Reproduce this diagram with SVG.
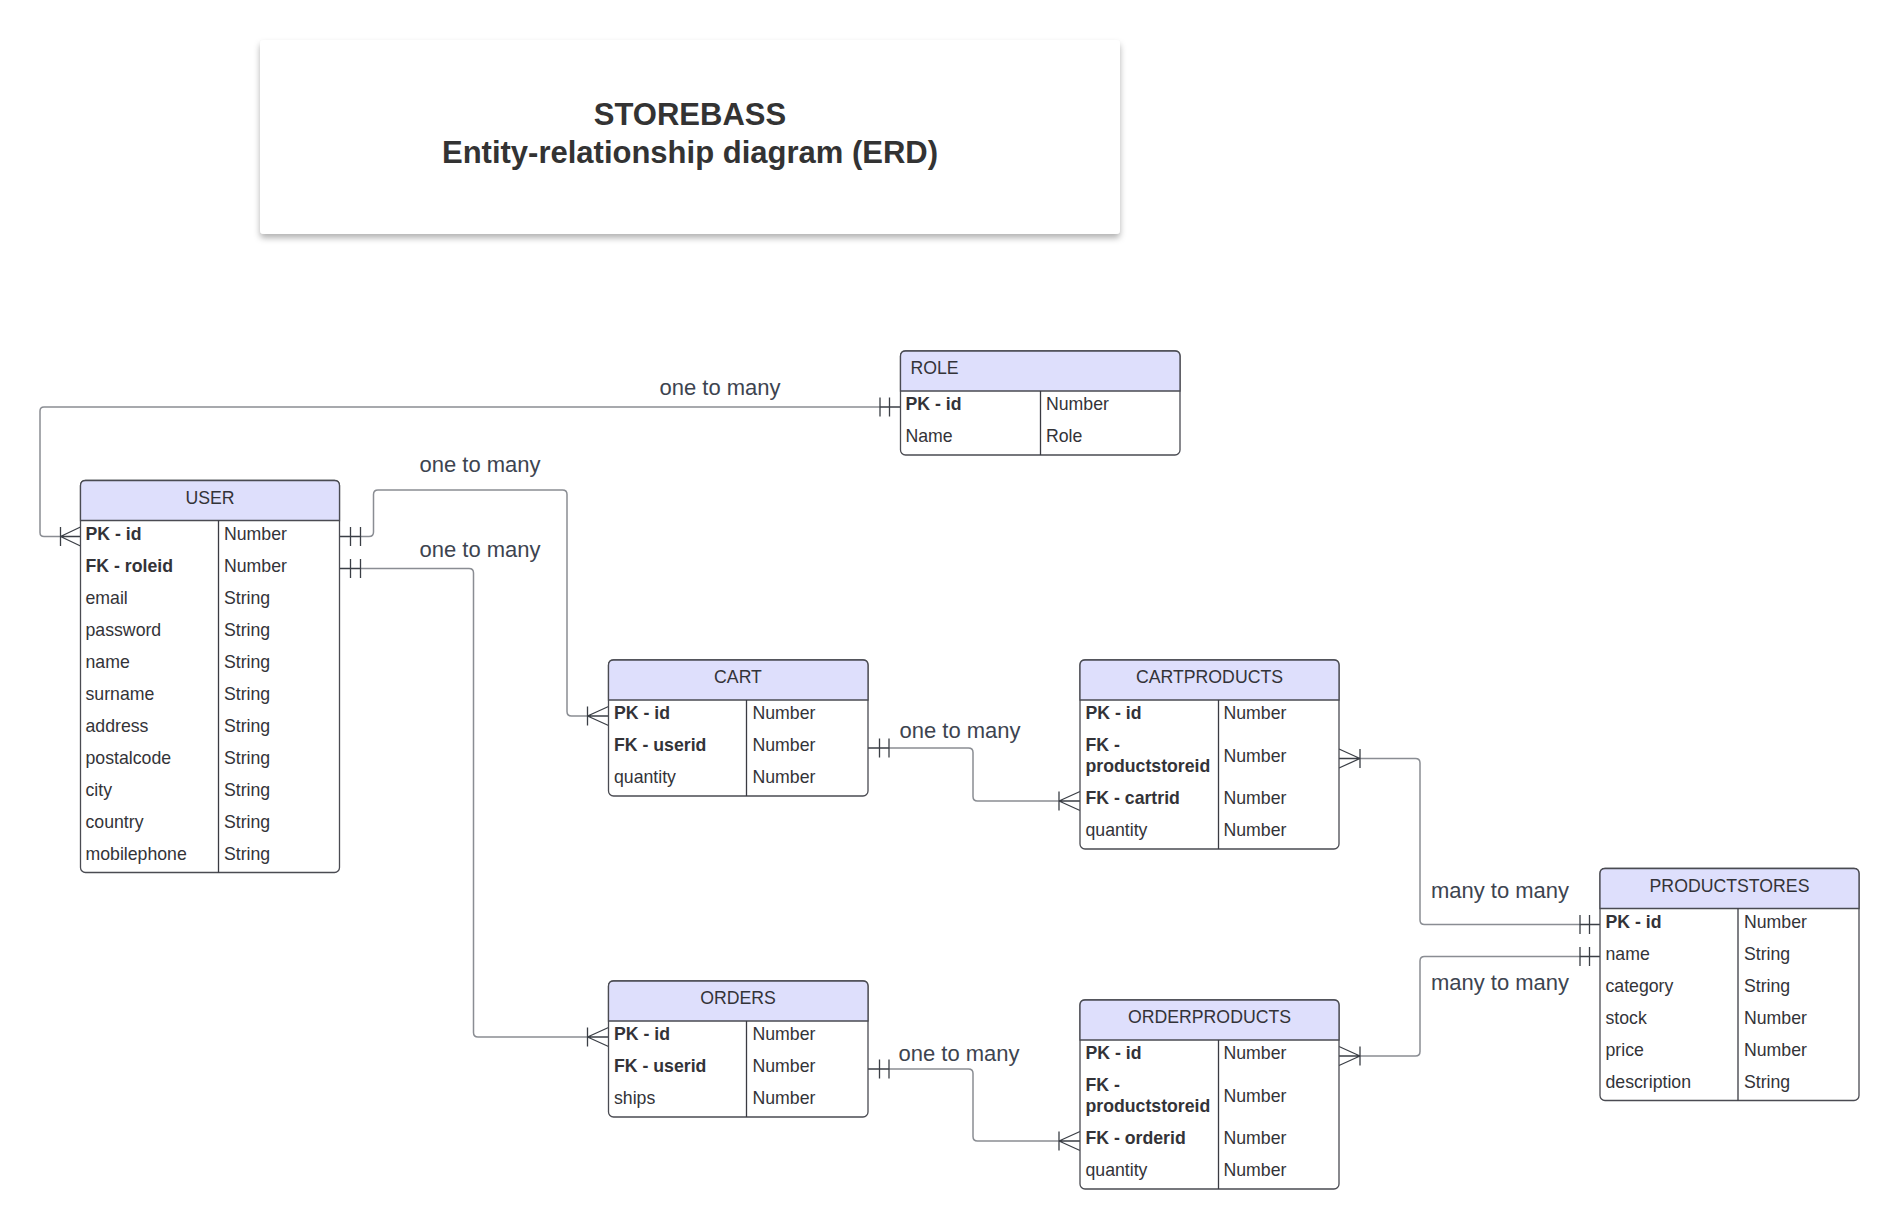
<svg xmlns="http://www.w3.org/2000/svg" width="1900" height="1229" viewBox="0 0 1900 1229">
<style>
text{font-family:"Liberation Sans",Arial,sans-serif;fill:#333338}
.t{font-size:17.7px}
.b{font-size:17.7px;font-weight:bold}
.h{font-size:17.7px;text-anchor:middle}
.lbl{font-size:22px;text-anchor:middle;fill:#3d4450}
.title{font-size:31px;font-weight:bold;text-anchor:middle;fill:#333}
.box{fill:#fff;stroke:#4a4b52;stroke-width:1.3}
.hd{fill:#dedffc;stroke:#4a4b52;stroke-width:1.3}
.ln{stroke:#3a3b42;stroke-width:1.3;fill:none}
.cn{stroke:#8a8d93;stroke-width:1.5;fill:none}
.end{stroke:#3b3f46;stroke-width:1.3;fill:none}
</style>
<defs>
<filter id="sh" x="-5%" y="-10%" width="110%" height="130%">
<feDropShadow dx="0" dy="4" stdDeviation="3" flood-color="#000" flood-opacity="0.3"/>
</filter>
</defs>

<g id="title">
<rect x="260" y="40" width="860" height="194" rx="4" fill="#fff" filter="url(#sh)"/>
<text class="title" x="690" y="125">STOREBASS</text>
<text class="title" x="690" y="162.5">Entity-relationship diagram (ERD)</text>
</g>

<g id="connectors">
<path class="cn" d="M880,407 H44 Q40,407 40,411 V532.5 Q40,536.5 44,536.5 H60.5"/>
<path class="cn" d="M360.5,536.5 H369 Q373.5,536.5 373.5,532 V494.5 Q373.5,490 378,490 H562.5 Q567,490 567,494.5 V711.5 Q567,716 571.5,716 H587.5"/>
<path class="cn" d="M360.5,568.5 H469 Q473.5,568.5 473.5,573 V1032.5 Q473.5,1037 478,1037 H587.5"/>
<path class="cn" d="M889,748 H968.5 Q973,748 973,752.5 V796.5 Q973,801 977.5,801 H1059"/>
<path class="cn" d="M889,1069 H968.5 Q973,1069 973,1073.5 V1136.5 Q973,1141 977.5,1141 H1059"/>
<path class="cn" d="M1360,758.5 H1415.5 Q1420,758.5 1420,763 V920 Q1420,924.5 1424.5,924.5 H1580"/>
<path class="cn" d="M1360,1056 H1415.5 Q1420,1056 1420,1051.5 V961 Q1420,956.5 1424.5,956.5 H1580"/>
<path class="end" d="M900.5,407 H880 M880,397.5 V416.5 M889.5,397.5 V416.5"/>
<path class="end" d="M60.5,536.5 H80.5 M60.5,527 V546 M60.5,536.5 L80.5,527 M60.5,536.5 L80.5,546"/>
<path class="end" d="M339.5,536.5 H360.5 M350.5,527 V546 M360.5,527 V546"/>
<path class="end" d="M587.5,716 H608.5 M587.5,706.5 V725.5 M587.5,716 L608.5,706.5 M587.5,716 L608.5,725.5"/>
<path class="end" d="M339.5,568.5 H360.5 M350.5,559 V578 M360.5,559 V578"/>
<path class="end" d="M587.5,1037 H608.5 M587.5,1027.5 V1046.5 M587.5,1037 L608.5,1027.5 M587.5,1037 L608.5,1046.5"/>
<path class="end" d="M868,748 H889 M879.5,738.5 V757.5 M889,738.5 V757.5"/>
<path class="end" d="M1059,801 H1080 M1059,791.5 V810.5 M1059,801 L1080,791.5 M1059,801 L1080,810.5"/>
<path class="end" d="M868,1069 H889 M879.5,1059.5 V1078.5 M889,1059.5 V1078.5"/>
<path class="end" d="M1059,1141 H1080 M1059,1131.5 V1150.5 M1059,1141 L1080,1131.5 M1059,1141 L1080,1150.5"/>
<path class="end" d="M1339,758.5 H1360 M1360,749 V768 M1360,758.5 L1339,749 M1360,758.5 L1339,768"/>
<path class="end" d="M1580,924.5 H1600 M1580,915 V934 M1589.5,915 V934"/>
<path class="end" d="M1339,1056 H1360 M1360,1046.5 V1065.5 M1360,1056 L1339,1046.5 M1360,1056 L1339,1065.5"/>
<path class="end" d="M1580,956.5 H1600 M1580,947 V966 M1589.5,947 V966"/>
<text class="lbl" x="720" y="394.5">one to many</text>
<text class="lbl" x="480" y="471.5">one to many</text>
<text class="lbl" x="480" y="556.5">one to many</text>
<text class="lbl" x="960" y="738">one to many</text>
<text class="lbl" x="959" y="1060.5">one to many</text>
<text class="lbl" x="1500" y="898">many to many</text>
<text class="lbl" x="1500" y="990">many to many</text>
</g>

<g id="role">
<rect class="box" x="900.5" y="351" width="279.5" height="104" rx="5"/>
<path class="hd" d="M900.5,391 V356 Q900.5,351 905.5,351 H1175 Q1180,351 1180,356 V391 Z"/>
<line class="ln" x1="1040.5" y1="391" x2="1040.5" y2="455"/>
<text class="t" x="910.5" y="374">ROLE</text>
<text class="b" x="905.5" y="410">PK - id</text><text class="t" x="1046" y="410">Number</text>
<text class="t" x="905.5" y="442">Name</text><text class="t" x="1046" y="442">Role</text>
</g>

<g id="user">
<rect class="box" x="80.5" y="480.5" width="259" height="392" rx="5"/>
<path class="hd" d="M80.5,520.5 V485.5 Q80.5,480.5 85.5,480.5 H334.5 Q339.5,480.5 339.5,485.5 V520.5 Z"/>
<line class="ln" x1="218.5" y1="520.5" x2="218.5" y2="872.5"/>
<text class="h" x="210" y="503.5">USER</text>
<text class="b" x="85.5" y="539.5">PK - id</text><text class="t" x="224" y="539.5">Number</text>
<text class="b" x="85.5" y="571.5">FK - roleid</text><text class="t" x="224" y="571.5">Number</text>
<text class="t" x="85.5" y="603.5">email</text><text class="t" x="224" y="603.5">String</text>
<text class="t" x="85.5" y="635.5">password</text><text class="t" x="224" y="635.5">String</text>
<text class="t" x="85.5" y="667.5">name</text><text class="t" x="224" y="667.5">String</text>
<text class="t" x="85.5" y="699.5">surname</text><text class="t" x="224" y="699.5">String</text>
<text class="t" x="85.5" y="731.5">address</text><text class="t" x="224" y="731.5">String</text>
<text class="t" x="85.5" y="763.5">postalcode</text><text class="t" x="224" y="763.5">String</text>
<text class="t" x="85.5" y="795.5">city</text><text class="t" x="224" y="795.5">String</text>
<text class="t" x="85.5" y="827.5">country</text><text class="t" x="224" y="827.5">String</text>
<text class="t" x="85.5" y="859.5">mobilephone</text><text class="t" x="224" y="859.5">String</text>
</g>

<g id="cart">
<rect class="box" x="608.5" y="660" width="259.5" height="136" rx="5"/>
<path class="hd" d="M608.5,700 V665 Q608.5,660 613.5,660 H863 Q868,660 868,665 V700 Z"/>
<line class="ln" x1="746.5" y1="700" x2="746.5" y2="796"/>
<text class="h" x="738" y="683">CART</text>
<text class="b" x="614" y="719">PK - id</text><text class="t" x="752.5" y="719">Number</text>
<text class="b" x="614" y="751">FK - userid</text><text class="t" x="752.5" y="751">Number</text>
<text class="t" x="614" y="783">quantity</text><text class="t" x="752.5" y="783">Number</text>
</g>

<g id="orders">
<rect class="box" x="608.5" y="981" width="259.5" height="136" rx="5"/>
<path class="hd" d="M608.5,1021 V986 Q608.5,981 613.5,981 H863 Q868,981 868,986 V1021 Z"/>
<line class="ln" x1="746.5" y1="1021" x2="746.5" y2="1117"/>
<text class="h" x="738" y="1004">ORDERS</text>
<text class="b" x="614" y="1040">PK - id</text><text class="t" x="752.5" y="1040">Number</text>
<text class="b" x="614" y="1072">FK - userid</text><text class="t" x="752.5" y="1072">Number</text>
<text class="t" x="614" y="1104">ships</text><text class="t" x="752.5" y="1104">Number</text>
</g>

<g id="cartproducts">
<rect class="box" x="1080" y="660" width="259" height="189" rx="5"/>
<path class="hd" d="M1080,700 V665 Q1080,660 1085,660 H1334 Q1339,660 1339,665 V700 Z"/>
<line class="ln" x1="1218.5" y1="700" x2="1218.5" y2="849"/>
<text class="h" x="1209.5" y="683">CARTPRODUCTS</text>
<text class="b" x="1085.5" y="719">PK - id</text><text class="t" x="1223.5" y="719">Number</text>
<text class="b" x="1085.5" y="751">FK -</text><text class="b" x="1085.5" y="771.5">productstoreid</text><text class="t" x="1223.5" y="761.5">Number</text>
<text class="b" x="1085.5" y="804">FK - cartrid</text><text class="t" x="1223.5" y="804">Number</text>
<text class="t" x="1085.5" y="836">quantity</text><text class="t" x="1223.5" y="836">Number</text>
</g>

<g id="orderproducts">
<rect class="box" x="1080" y="1000" width="259" height="189" rx="5"/>
<path class="hd" d="M1080,1040 V1005 Q1080,1000 1085,1000 H1334 Q1339,1000 1339,1005 V1040 Z"/>
<line class="ln" x1="1218.5" y1="1040" x2="1218.5" y2="1189"/>
<text class="h" x="1209.5" y="1023">ORDERPRODUCTS</text>
<text class="b" x="1085.5" y="1059">PK - id</text><text class="t" x="1223.5" y="1059">Number</text>
<text class="b" x="1085.5" y="1091">FK -</text><text class="b" x="1085.5" y="1111.5">productstoreid</text><text class="t" x="1223.5" y="1101.5">Number</text>
<text class="b" x="1085.5" y="1144">FK - orderid</text><text class="t" x="1223.5" y="1144">Number</text>
<text class="t" x="1085.5" y="1176">quantity</text><text class="t" x="1223.5" y="1176">Number</text>
</g>

<g id="productstores">
<rect class="box" x="1600" y="868.5" width="259" height="232" rx="5"/>
<path class="hd" d="M1600,908.5 V873.5 Q1600,868.5 1605,868.5 H1854 Q1859,868.5 1859,873.5 V908.5 Z"/>
<line class="ln" x1="1738" y1="908.5" x2="1738" y2="1100.5"/>
<text class="h" x="1729.5" y="891.5">PRODUCTSTORES</text>
<text class="b" x="1605.5" y="927.5">PK - id</text><text class="t" x="1744" y="927.5">Number</text>
<text class="t" x="1605.5" y="959.5">name</text><text class="t" x="1744" y="959.5">String</text>
<text class="t" x="1605.5" y="991.5">category</text><text class="t" x="1744" y="991.5">String</text>
<text class="t" x="1605.5" y="1023.5">stock</text><text class="t" x="1744" y="1023.5">Number</text>
<text class="t" x="1605.5" y="1055.5">price</text><text class="t" x="1744" y="1055.5">Number</text>
<text class="t" x="1605.5" y="1087.5">description</text><text class="t" x="1744" y="1087.5">String</text>
</g>
</svg>
